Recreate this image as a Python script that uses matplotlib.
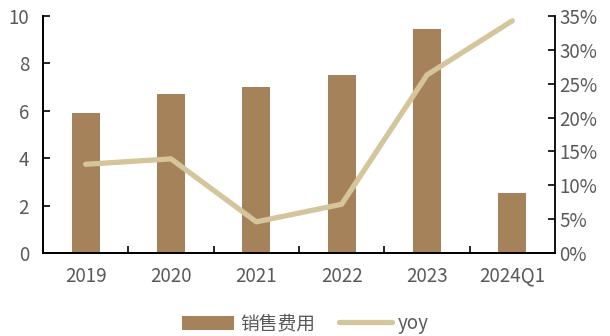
import matplotlib
matplotlib.use('Agg')
import matplotlib.pyplot as plt
import numpy as np
from matplotlib.ticker import FixedLocator

plt.rcParams['font.family'] = ['Noto Sans CJK SC', 'DejaVu Sans']

# Data ------------------------------------------------------------------------

years = ['2019', '2020', '2021', '2022', '2023', '2024Q1']
sales_exp = [5.9, 6.7, 7.0, 7.5, 9.45, 2.53]  # 销售费用
yoy = [13.1, 13.9, 4.6, 7.2, 26.3, 34.3]  # %

BAR_COLOR = '#A5825A'
LINE_COLOR = '#D5C59B'
TEXT_COLOR = '#595959'
FS = 13.5

# Plot ------------------------------------------------------------------------

fig = plt.figure(figsize=(6.1, 3.36), dpi=100)
ax = fig.add_axes([43 / 610, 1 - 253 / 336, 512 / 610, 237 / 336])
ax2 = ax.twinx()

x = np.arange(len(years))
b = ax.bar(x, sales_exp, width=0.33, color=BAR_COLOR, label='销售费用')
l, = ax2.plot(x, yoy, color=LINE_COLOR, lw=3.8, solid_capstyle='round', label='yoy')

ax.set_xlim(-0.5, len(years) - 0.5)
ax.set_ylim(0, 10)
ax2.set_ylim(0, 35)
ax.set_yticks(np.arange(0, 11, 2))
ax2.set_yticks(np.arange(0, 36, 5))
ax2.set_yticklabels([f'{v}%' for v in range(0, 36, 5)])

ax.set_xticks(x)
ax.set_xticklabels(years)
ax.xaxis.set_minor_locator(FixedLocator(np.arange(0.5, len(years) - 0.5, 1)))
ax.tick_params(axis='x', which='major', length=0, pad=9, labelsize=FS, colors=TEXT_COLOR)
ax.tick_params(axis='x', which='minor', direction='in', length=5, width=1.2, color='black')
ax.tick_params(axis='y', direction='in', length=5, width=1.2, color='black',
               labelsize=FS, labelcolor=TEXT_COLOR, pad=10)
ax2.tick_params(axis='y', direction='in', length=5, width=1.2, color='black',
                labelsize=FS, labelcolor=TEXT_COLOR, pad=3)

for a in (ax, ax2):
    a.spines['top'].set_visible(False)
    for s in ('left', 'right', 'bottom'):
        a.spines[s].set_linewidth(1.3)
ax.spines['right'].set_visible(False)

fig.legend(handles=[b, l], loc='lower center', bbox_to_anchor=(0.5, -0.045), ncol=2,
           frameon=False, fontsize=FS, labelcolor=TEXT_COLOR, handlelength=2.8,
           handleheight=0.8, columnspacing=1.3, handletextpad=0.3)

fig.savefig('out.png', dpi=100)
